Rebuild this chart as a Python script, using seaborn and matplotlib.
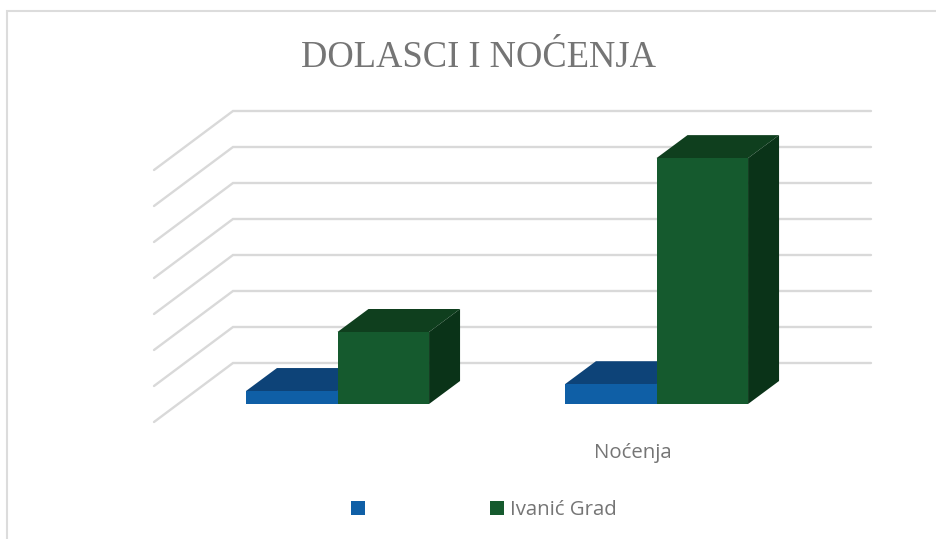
import matplotlib
matplotlib.use("Agg")
import matplotlib.pyplot as plt
import seaborn as sns
import pandas as pd
from matplotlib.lines import Line2D
from matplotlib.patches import Polygon, Rectangle
from matplotlib.transforms import ScaledTranslation

title = "DOLASCI I NOĆENJA"
categories = ["", "Noćenja"]
series_names = [" ", "Ivanić Grad"]
values_blue = [0.36, 0.55]
values_green = [2.0, 6.83]
grid_levels = [0, 1, 2, 3, 4, 5, 6, 7]

front_colors = ["#0F5FA6", "#155A2E"]
top_colors = ["#0D4378", "#0F3F1E"]
side_colors = ["#0A3D6E", "#0A3318"]
GRID = "#D9D9D9"
TEXT = "#757575"

W, H = 936, 539
sns.set_theme(style="white")
fig = plt.figure(figsize=(W / 100, H / 100), dpi=100, facecolor="white")
# front plane of the bars, in pixels: x 178..816, y 152..404
ax = fig.add_axes([178 / W, 1 - 404 / H, (816 - 178) / W, (404 - 152) / H])

df = pd.DataFrame({
    "category": categories * 2,
    "series": [series_names[0]] * 2 + [series_names[1]] * 2,
    "value": values_blue + values_green,
})
sns.barplot(data=df, x="category", y="value", hue="series", order=categories,
            hue_order=series_names, palette=front_colors, saturation=1,
            width=0.574, gap=0, ax=ax, legend=False, zorder=5)
ax.set_xlim(-0.5, 1.5)
ax.set_ylim(0, 7)
ax.set_xlabel("")
ax.set_ylabel("")
ax.set_yticks([])
for s in ax.spines.values():
    s.set_visible(False)
ax.patch.set_alpha(0)

# pixel to data scale for oblique depth
px_x = 2.0 / (816 - 178)
px_y = 7.0 / (404 - 152)
back = (55 * px_x, 41 * px_y)
front = (-24 * px_x, -18 * px_y)
bar_depth = (31 * px_x, 23 * px_y)

# walls
for v in grid_levels:
    ax.plot([-0.5 + front[0], -0.5 + back[0], 1.5 + back[0]],
            [v + front[1], v + back[1], v + back[1]],
            color=GRID, lw=1.7, clip_on=False, zorder=1, solid_joinstyle="miter")

# depth faces of the bars
for i, cont in enumerate(ax.containers):
    for bar in cont:
        x0, w, h = bar.get_x(), bar.get_width(), bar.get_height()
        bar.set_zorder(3 + 2 * i)
        bar.set_edgecolor("none")
        bar.set_linewidth(0)
        dx, dy = bar_depth
        ax.add_patch(Polygon([(x0, h), (x0 + w, h), (x0 + w + dx, h + dy), (x0 + dx, h + dy)],
                             closed=True, fc=top_colors[i], ec="none",
                             clip_on=False, zorder=2 + 2 * i))
        ax.add_patch(Polygon([(x0 + w, 0), (x0 + w + dx, dy), (x0 + w + dx, h + dy), (x0 + w, h)],
                             closed=True, fc=side_colors[i], ec="none",
                             clip_on=False, zorder=2 + 2 * i))

# category labels
ax.set_xticks(range(len(categories)))
ax.set_xticklabels(categories, fontsize=14.7, color=TEXT, fontfamily="Open Sans")
ax.tick_params(axis="x", length=0, pad=28)
shift = ScaledTranslation(-24 / 100, 0, fig.dpi_scale_trans)
for lab in ax.get_xticklabels():
    lab.set_transform(lab.get_transform() + shift)

fig.text(479 / W, 1 - 58 / H, title, ha="center", va="center", fontsize=26.3,
         color=TEXT, family="Liberation Serif")

# legend
handles = [Rectangle((0, 0), 1, 1, fc=c, ec="none") for c in front_colors]
fig.legend(handles, series_names, loc="center left", bbox_to_anchor=(333 / W, 1 - 510 / H),
           ncol=2, frameon=False, handlelength=0.65, handleheight=0.65, handletextpad=0.3,
           columnspacing=5.6, prop={"family": "Open Sans", "size": 14.7}, labelcolor=TEXT)

# chart frame: only the top and left edges fall inside the picture
fig.add_artist(Line2D([7 / W, 7 / W, 1.0], [0, 1 - 11 / H, 1 - 11 / H], transform=fig.transFigure,
                      color="#DCDCDC", lw=1.5, solid_joinstyle="miter"))

fig.savefig("out.png", dpi=100)
